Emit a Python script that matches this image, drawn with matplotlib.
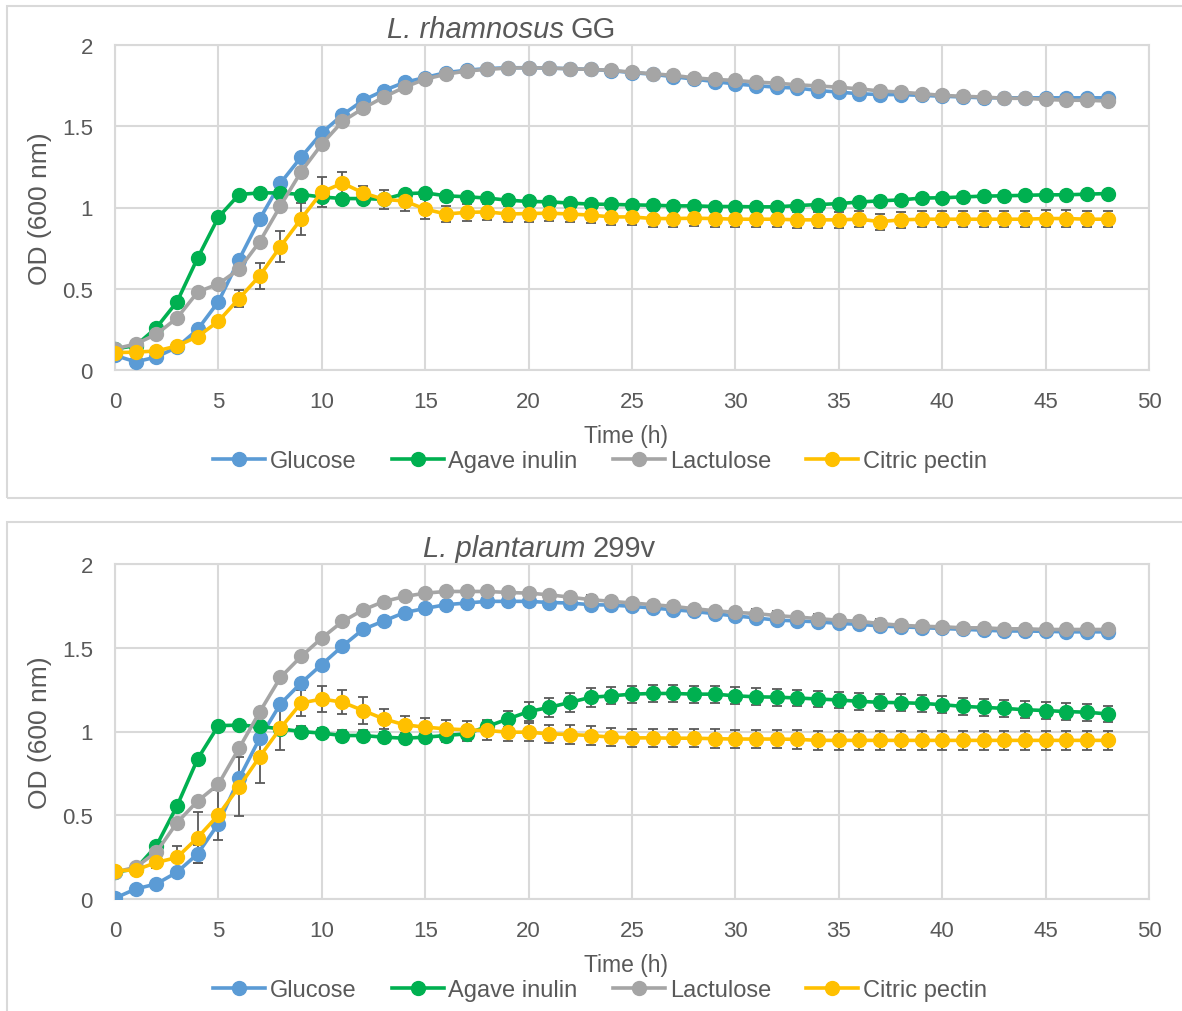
import numpy as np
import matplotlib.pyplot as plt
from matplotlib.patches import Rectangle

plt.rcParams['font.family'] = ['Liberation Sans', 'DejaVu Sans']

W, H = 1182, 1012

hours = np.arange(49)
sugars = ['Glucose', 'Agave inulin', 'Lactulose', 'Citric pectin']
colors = ['#5B9BD5', '#00B050', '#A5A5A5', '#FFC000']

# L. rhamnosus GG
glucose_lgg = [0.09, 0.05, 0.08, 0.14, 0.25, 0.42, 0.68, 0.93, 1.15, 1.31, 1.46, 1.57, 1.66,
               1.72, 1.77, 1.80, 1.83, 1.845, 1.855, 1.86, 1.86, 1.858, 1.854, 1.85, 1.842,
               1.83, 1.82, 1.805, 1.79, 1.775, 1.76, 1.75, 1.74, 1.735, 1.72, 1.71, 1.70,
               1.695, 1.695, 1.69, 1.685, 1.68, 1.675, 1.675, 1.675, 1.675, 1.675, 1.675, 1.675]
inulin_lgg = [0.13, 0.15, 0.26, 0.42, 0.69, 0.94, 1.08, 1.09, 1.09, 1.08, 1.065, 1.055, 1.055,
              1.05, 1.085, 1.09, 1.072, 1.066, 1.058, 1.045, 1.037, 1.035, 1.027, 1.021, 1.019,
              1.016, 1.014, 1.01, 1.01, 1.006, 1.006, 1.004, 1.004, 1.012, 1.018, 1.024, 1.034,
              1.041, 1.047, 1.058, 1.06, 1.065, 1.07, 1.072, 1.075, 1.078, 1.078, 1.082, 1.086]
lactulose_lgg = [0.13, 0.16, 0.22, 0.32, 0.48, 0.53, 0.62, 0.79, 1.01, 1.22, 1.39, 1.53, 1.61,
                 1.68, 1.74, 1.79, 1.82, 1.84, 1.85, 1.858, 1.86, 1.858, 1.854, 1.85, 1.844,
                 1.833, 1.823, 1.813, 1.798, 1.788, 1.782, 1.772, 1.765, 1.755, 1.748, 1.74,
                 1.73, 1.717, 1.71, 1.70, 1.69, 1.684, 1.68, 1.672, 1.672, 1.665, 1.66, 1.66, 1.655]
pectin_lgg = [0.107, 0.11, 0.117, 0.148, 0.206, 0.30, 0.44, 0.58, 0.76, 0.93, 1.095, 1.15, 1.09,
              1.05, 1.04, 0.99, 0.96, 0.97, 0.973, 0.96, 0.963, 0.965, 0.96, 0.953, 0.942, 0.942,
              0.932, 0.932, 0.934, 0.932, 0.928, 0.928, 0.928, 0.924, 0.924, 0.924, 0.928, 0.913,
              0.924, 0.928, 0.928, 0.928, 0.928, 0.928, 0.928, 0.932, 0.932, 0.928, 0.928]
pectin_err_lgg = [0.01, 0.01, 0.01, 0.01, 0.03, 0.02, 0.055, 0.08, 0.095, 0.10, 0.09, 0.07, 0.04,
                  0.057, 0.06, 0.06, 0.05, 0.05, 0.05, 0.05, 0.05, 0.05, 0.05, 0.05, 0.05, 0.05,
                  0.05, 0.05, 0.05, 0.05, 0.05, 0.05, 0.05, 0.05, 0.05, 0.05, 0.05, 0.05, 0.05,
                  0.05, 0.05, 0.05, 0.05, 0.05, 0.05, 0.05, 0.05, 0.05, 0.05]

# L. plantarum 299v
glucose_lp = [0.005, 0.06, 0.09, 0.16, 0.27, 0.45, 0.72, 0.96, 1.165, 1.29, 1.40, 1.51, 1.61,
              1.66, 1.71, 1.735, 1.757, 1.767, 1.777, 1.777, 1.777, 1.77, 1.767, 1.757, 1.755,
              1.747, 1.737, 1.727, 1.717, 1.703, 1.69, 1.678, 1.665, 1.66, 1.655, 1.645, 1.64,
              1.63, 1.625, 1.62, 1.615, 1.61, 1.605, 1.60, 1.60, 1.598, 1.595, 1.595, 1.595]
inulin_lp = [0.16, 0.18, 0.317, 0.556, 0.837, 1.035, 1.038, 1.03, 1.016, 1.0, 0.99, 0.976, 0.976,
             0.966, 0.96, 0.966, 0.976, 0.986, 1.03, 1.075, 1.119, 1.144, 1.174, 1.204, 1.213,
             1.223, 1.227, 1.227, 1.223, 1.223, 1.213, 1.207, 1.205, 1.20, 1.194, 1.188, 1.18,
             1.174, 1.172, 1.168, 1.16, 1.15, 1.144, 1.138, 1.13, 1.125, 1.119, 1.115, 1.105]
lactulose_lp = [0.16, 0.19, 0.28, 0.456, 0.585, 0.685, 0.90, 1.117, 1.323, 1.448, 1.558, 1.657,
                1.726, 1.776, 1.806, 1.826, 1.836, 1.836, 1.836, 1.83, 1.826, 1.816, 1.802,
                1.787, 1.777, 1.767, 1.757, 1.747, 1.733, 1.721, 1.711, 1.704, 1.692, 1.683,
                1.674, 1.664, 1.658, 1.644, 1.634, 1.628, 1.625, 1.619, 1.619, 1.613, 1.613,
                1.609, 1.609, 1.609, 1.609]
pectin_lp = [0.169, 0.173, 0.218, 0.248, 0.367, 0.502, 0.67, 0.85, 1.02, 1.17, 1.194, 1.175, 1.125,
             1.075, 1.04, 1.026, 1.016, 1.01, 1.006, 0.996, 0.996, 0.986, 0.982, 0.976, 0.966,
             0.962, 0.962, 0.96, 0.96, 0.957, 0.955, 0.955, 0.955, 0.953, 0.947, 0.947, 0.947,
             0.947, 0.947, 0.947, 0.947, 0.947, 0.947, 0.947, 0.947, 0.947, 0.947, 0.947, 0.947]
glucose_err_lp = [0.0, 0.0, 0.0, 0.0, 0.055, 0.0, 0.0, 0.0, 0.0, 0.0, 0.0, 0.0, 0.0, 0.0, 0.0,
                  0.01, 0.01, 0.01, 0.01, 0.01, 0.01, 0.015, 0.015, 0.02, 0.02, 0.02, 0.02, 0.02,
                  0.02, 0.02, 0.02, 0.02, 0.02, 0.02, 0.02, 0.02, 0.02, 0.02, 0.02, 0.02, 0.02,
                  0.02, 0.02, 0.02, 0.02, 0.02, 0.02, 0.02, 0.02]
inulin_err_lp = [0.0, 0.0, 0.0, 0.0, 0.0, 0.0, 0.0, 0.0, 0.03, 0.03, 0.03, 0.03, 0.03, 0.03, 0.03,
                 0.03, 0.04, 0.04, 0.04, 0.05, 0.055, 0.055, 0.055, 0.055, 0.05, 0.05, 0.05, 0.05,
                 0.05, 0.05, 0.05, 0.05, 0.05, 0.05, 0.05, 0.05, 0.05, 0.05, 0.05, 0.05, 0.05,
                 0.05, 0.05, 0.05, 0.05, 0.05, 0.05, 0.05, 0.05]
lactulose_err_lp = [0.0, 0.0, 0.0, 0.0, 0.0, 0.0, 0.0, 0.0, 0.0, 0.0, 0.0, 0.0, 0.0, 0.0, 0.0,
                    0.01, 0.01, 0.01, 0.01, 0.01, 0.015, 0.015, 0.02, 0.025, 0.025, 0.025, 0.025,
                    0.025, 0.025, 0.025, 0.025, 0.025, 0.025, 0.025, 0.025, 0.025, 0.025, 0.025,
                    0.025, 0.025, 0.025, 0.025, 0.025, 0.025, 0.025, 0.025, 0.025, 0.025, 0.025]
pectin_err_lp = [0.01, 0.01, 0.03, 0.07, 0.15, 0.15, 0.175, 0.155, 0.13, 0.08, 0.077, 0.07, 0.08,
                 0.06, 0.055, 0.055, 0.055, 0.055, 0.055, 0.055, 0.055, 0.055, 0.055, 0.055,
                 0.055, 0.055, 0.055, 0.055, 0.055, 0.055, 0.055, 0.055, 0.055, 0.055, 0.055,
                 0.055, 0.055, 0.055, 0.055, 0.055, 0.055, 0.055, 0.055, 0.055, 0.055, 0.055,
                 0.055, 0.055, 0.055]

TXT = '#595959'
GRID = '#d9d9d9'


def fx(x):
    return x / W


def fy(y):
    return 1 - y / H


def panel(fig, top, bottom, series, errs, title, title_x, box):
    """one chart block: border, axes, title, labels, legend"""
    bx0, by0, by1 = box
    fig.patches.append(Rectangle((fx(bx0), fy(by1)), 1.2, fy(by0) - fy(by1),
                                 transform=fig.transFigure, fill=False,
                                 edgecolor=GRID, linewidth=1.5))
    ax = fig.add_axes([fx(115), fy(bottom), fx(1149) - fx(115), fy(top) - fy(bottom)])
    ax.set_xlim(0, 50)
    ax.set_ylim(0, 2)
    ax.set_xticks(np.arange(0, 51, 5))
    ax.set_yticks([0, 0.5, 1, 1.5, 2])
    ax.set_yticklabels(['0', '0.5', '1', '1.5', '2'])
    ax.grid(True, color=GRID, linewidth=1.5, zorder=0)
    ax.set_axisbelow(True)
    for s in ax.spines.values():
        s.set_color(GRID)
        s.set_linewidth(1.5)
    ax.tick_params(length=0, labelsize=16, labelcolor=TXT)
    ax.tick_params(axis='x', pad=15)
    ax.tick_params(axis='y', pad=16)

    handles = []
    for vals, err, name, c in zip(series, errs, sugars, colors):
        if err is not None:
            ax.errorbar(hours, vals, yerr=err, fmt='none', ecolor='#595959',
                        elinewidth=1.3, capsize=3.5, capthick=1.3, zorder=2)
        h, = ax.plot(hours, vals, '-o', color=c, linewidth=2.6, markersize=10,
                     label=name, zorder=3)
        handles.append(h)

    italic, plain = title
    ty = fy(30 + top - 46)
    fig.text(fx(title_x), ty, italic, ha='right', va='center',
             fontsize=21, style='italic', color=TXT)
    fig.text(fx(title_x + 7), ty, plain, ha='left', va='center',
             fontsize=21, color=TXT)
    fig.text(fx(40), fy((top + bottom) / 2), 'OD (600 nm)', rotation=90,
             ha='center', va='center', fontsize=19, color=TXT)
    fig.text(fx(626), fy(bottom + 66), 'Time (h)', ha='center', va='center',
             fontsize=16.5, color=TXT)
    fig.legend(handles=handles, loc='center', bbox_to_anchor=(fx(600), fy(bottom + 91)),
               ncol=4, frameon=False, fontsize=17, handlelength=2.2,
               handletextpad=0.2, columnspacing=1.5, labelcolor=TXT,
               borderaxespad=0, borderpad=0)
    return ax


fig = plt.figure(figsize=(W / 100, H / 100), dpi=100)

panel(fig, 46, 371,
      [glucose_lgg, inulin_lgg, lactulose_lgg, pectin_lgg],
      [None, None, None, pectin_err_lgg],
      ('L. rhamnosus', 'GG'), 564, (7, 7, 499))

panel(fig, 565, 900,
      [glucose_lp, inulin_lp, lactulose_lp, pectin_lp],
      [glucose_err_lp, inulin_err_lp, lactulose_err_lp, pectin_err_lp],
      ('L. plantarum', '299v'), 585, (7, 523, 1030))

fig.savefig('out.png', dpi=100)
